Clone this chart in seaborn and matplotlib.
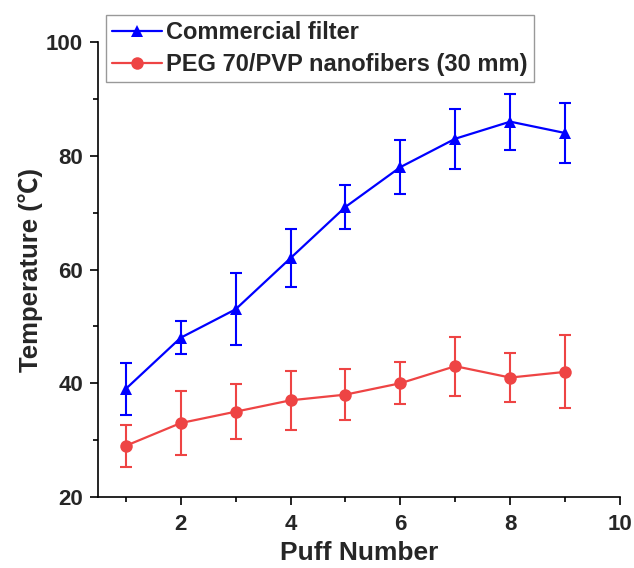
import numpy as np
import pandas as pd
import matplotlib
matplotlib.use("Agg")
import matplotlib.pyplot as plt
from matplotlib.ticker import MultipleLocator
import seaborn as sns

# data
puff = [1, 2, 3, 4, 5, 6, 7, 8, 9]
commercial = [39, 48, 53, 62, 71, 78, 83, 86, 84]
commercial_err = [4.6, 2.9, 6.3, 5.1, 3.8, 4.7, 5.3, 4.9, 5.3]
peg = [29, 33, 35, 37, 38, 40, 43, 41, 42]
peg_err = [3.7, 5.7, 4.8, 5.2, 4.5, 3.7, 5.2, 4.3, 6.4]

labels = ["Commercial filter", "PEG 70/PVP nanofibers (30 mm)"]

sns.set_theme(style="ticks")
plt.rcParams["font.family"] = ["Liberation Sans", "DejaVu Sans"]
plt.rcParams["font.weight"] = "bold"

df = pd.DataFrame({
    "puff": puff * 2,
    "temp": commercial + peg,
    "err": commercial_err + peg_err,
    "sample": [labels[0]] * len(puff) + [labels[1]] * len(puff),
})

blue = "#0000FF"
red = "#EE4444"

fig, ax = plt.subplots(figsize=(6.34, 5.68), dpi=100)
fig.subplots_adjust(left=0.155, right=0.978, top=0.926, bottom=0.125)

sns.lineplot(data=df, x="puff", y="temp", hue="sample", style="sample",
             markers={labels[0]: "^", labels[1]: "o"}, dashes=False,
             palette={labels[0]: blue, labels[1]: red},
             markersize=9, markeredgewidth=0, linewidth=1.6, ax=ax, zorder=3)

for lab, col in zip(labels, [blue, red]):
    sub = df[df["sample"] == lab]
    ax.errorbar(sub["puff"], sub["temp"], yerr=sub["err"], fmt="none",
                ecolor=col, elinewidth=1.5, capsize=4, capthick=1.5, zorder=2)

ax.set_xlim(0.5, 10)
ax.set_ylim(20, 100)
ax.xaxis.set_major_locator(MultipleLocator(2))
ax.xaxis.set_minor_locator(MultipleLocator(1))
ax.yaxis.set_major_locator(MultipleLocator(20))
ax.yaxis.set_minor_locator(MultipleLocator(10))
ax.set_xticks([2, 4, 6, 8, 10])
ax.tick_params(which="major", length=6, width=1.2, labelsize=16, pad=5, color="black")
ax.tick_params(axis="x", which="major", pad=6.5)
ax.tick_params(which="minor", length=3.5, width=1.2, color="black")
for lbl in ax.get_xticklabels() + ax.get_yticklabels():
    lbl.set_fontweight("bold")

sns.despine(ax=ax)
for s in ["left", "bottom"]:
    ax.spines[s].set_linewidth(1.2)
    ax.spines[s].set_color("black")

ax.set_xlabel("Puff Number", fontsize=19, fontweight="bold", labelpad=4)
ax.set_ylabel("Temperature (℃)", fontsize=18.5, fontweight="bold", labelpad=2,
              family=["Liberation Sans", "Noto Sans CJK SC", "DejaVu Sans"])

leg = ax.legend(loc="upper left", bbox_to_anchor=(0.015, 1.059), fontsize=17,
                frameon=True, fancybox=False, handlelength=2.1,
                borderpad=0.25, labelspacing=0.38, handletextpad=0.2,
                borderaxespad=0)
leg.get_frame().set_edgecolor("#808080")
leg.get_frame().set_linewidth(1.0)
for t in leg.get_texts():
    t.set_fontweight("bold")

fig.savefig("out.png", dpi=100)
